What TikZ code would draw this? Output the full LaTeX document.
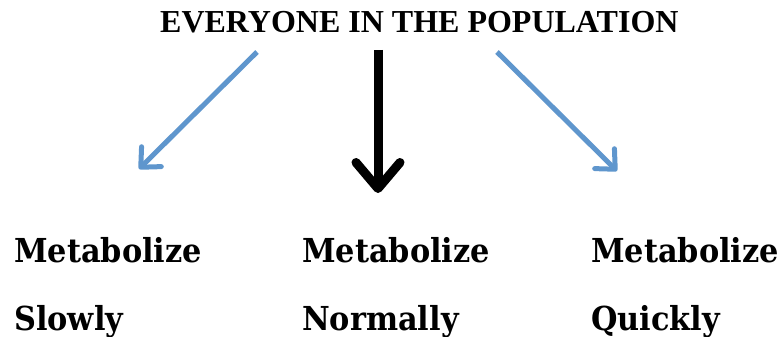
\documentclass[tikz,border=0pt]{standalone}
\usepackage{fontspec}
\setmainfont{Liberation Serif}
\newfontfamily\ratefont[FakeStretch=0.92]{DejaVu Serif}
\usetikzlibrary{arrows.meta}
\definecolor{arrowblue}{RGB}{95,150,205}

\begin{document}
\begin{tikzpicture}[x=1pt, y=-1pt,
        pop/.style={font=\bfseries\fontsize{32}{32}\selectfont, anchor=base west, inner sep=0pt},
        rate/.style={font=\ratefont\bfseries\fontsize{33}{33}\selectfont, anchor=base west, inner sep=0pt},
        bluearrow/.style={draw=arrowblue, line width=5pt, -{Straight Barb[length=15pt, width=28pt, round]}},
        blackarrow/.style={draw=black, line width=9pt, -{Straight Barb[length=26pt, width=44pt, round]}}]
        \useasboundingbox (0,0) rectangle (780,337);
        \node[pop] (title) at (160,33) {EVERYONE IN THE POPULATION};
        % where the arrows start and end
        \coordinate (slowstart) at (257,52);
        \coordinate (slowend) at (139,169);
        \coordinate (normalstart) at (378,50);
        \coordinate (normalend) at (378,193);
        \coordinate (quickstart) at (497,52);
        \coordinate (quickend) at (617,171);
        \draw[bluearrow] (slowstart) -- (slowend);
        \draw[blackarrow] (normalstart) -- (normalend);
        \draw[bluearrow] (quickstart) -- (quickend);
        % the three groups
        \node[rate] (slowtop) at (14,262) {Metabolize};
        \node[rate] (slowword) at (14,330) {Slowly};
        \node[rate] (normaltop) at (302,262) {Metabolize};
        \node[rate] (normalword) at (302,330) {Normally};
        \node[rate] (quicktop) at (591,262) {Metabolize};
        \node[rate] (quickword) at (591,330) {Quickly};
    \end{tikzpicture}
\end{document}
